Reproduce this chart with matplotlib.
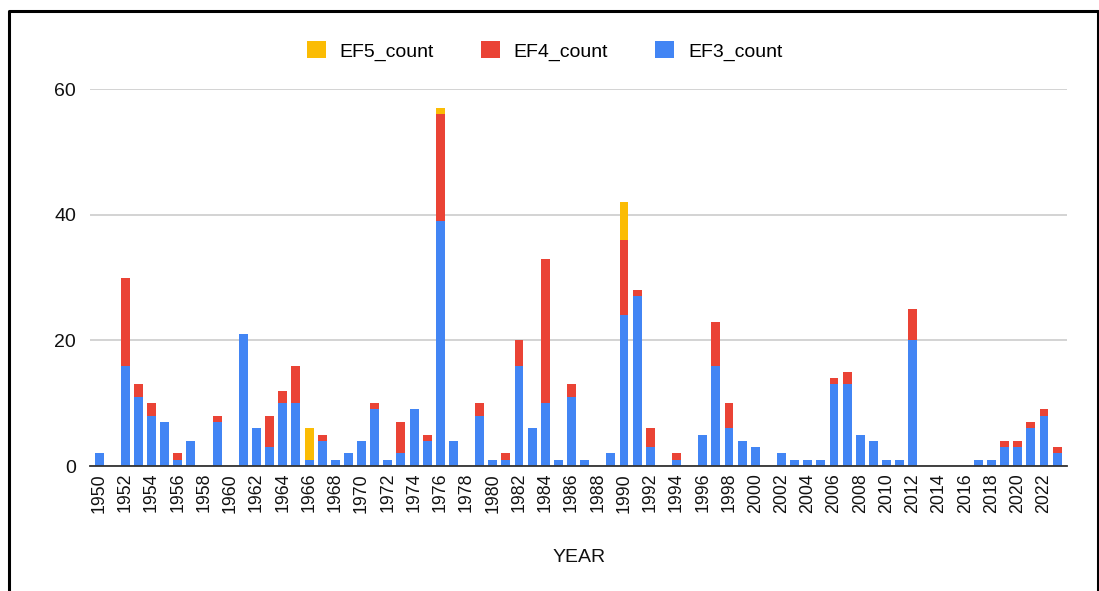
import matplotlib
matplotlib.use("Agg")
import matplotlib.pyplot as plt
from matplotlib.lines import Line2D
from matplotlib.patches import Patch
import numpy as np

plt.rcParams['font.family'] = ['Liberation Sans', 'DejaVu Sans']

years = list(range(1950, 2024))
ef3 = [2, 0, 16, 11, 8, 7, 1, 4, 0, 7,
       0, 21, 6, 3, 10, 10, 1, 4, 1, 2,
       4, 9, 1, 2, 9, 4, 39, 4, 0, 8,
       1, 1, 16, 6, 10, 1, 11, 1, 0, 2,
       24, 27, 3, 0, 1, 0, 5, 16, 6, 4,
       3, 0, 2, 1, 1, 1, 13, 13, 5, 4,
       1, 1, 20, 0, 0, 0, 0, 1, 1, 3,
       3, 6, 8, 2]
ef4 = [0, 0, 14, 2, 2, 0, 1, 0, 0, 1,
       0, 0, 0, 5, 2, 6, 0, 1, 0, 0,
       0, 1, 0, 5, 0, 1, 17, 0, 0, 2,
       0, 1, 4, 0, 23, 0, 2, 0, 0, 0,
       12, 1, 3, 0, 1, 0, 0, 7, 4, 0,
       0, 0, 0, 0, 0, 0, 1, 2, 0, 0,
       0, 0, 5, 0, 0, 0, 0, 0, 0, 1,
       1, 1, 1, 1]
ef5 = [0] * 74
ef5[1966 - 1950] = 5
ef5[1976 - 1950] = 1
ef5[1990 - 1950] = 6

tick_years = list(range(1950, 2024, 2))
yticks = [0, 20, 40, 60]

c3, c4, c5 = '#4285F4', '#EA4335', '#FBBC04'

fig = plt.figure(figsize=(10.99, 5.91), dpi=100)
ax = fig.add_axes([0.082, 0.2115, 0.889, 0.6375])

x = np.arange(len(years))
ef3a = np.array(ef3); ef4a = np.array(ef4); ef5a = np.array(ef5)
w = 0.68
ax.bar(x, ef3a, width=w, color=c3, zorder=3)
ax.bar(x, ef4a, width=w, bottom=ef3a, color=c4, zorder=3)
ax.bar(x, ef5a, width=w, bottom=ef3a + ef4a, color=c5, zorder=3)

ax.set_xlim(-0.68, len(years) - 0.24)
ax.set_ylim(0, 60)
ax.set_yticks(yticks)
ax.set_yticklabels([str(v) for v in yticks], fontsize=14, color='#111111')
ax.yaxis.grid(True, color='#cccccc', linewidth=1.2, zorder=0)
ax.set_xticks([years.index(y) for y in tick_years])
ax.set_xticklabels([str(y) for y in tick_years], rotation=90, fontsize=12.8, color='#111111')
ax.tick_params(axis='both', length=0)
ax.tick_params(axis='x', pad=5)
ax.tick_params(axis='y', pad=10)
for s in ['top', 'right', 'left']:
    ax.spines[s].set_visible(False)
ax.spines['bottom'].set_color('#333333')
ax.spines['bottom'].set_linewidth(1.3)
ax.spines['bottom'].set_zorder(4)
ax.set_xlabel('YEAR', fontsize=14, color='#111111', labelpad=26)

handles = [Patch(facecolor=c5, label='EF5_count'),
           Patch(facecolor=c4, label='EF4_count'),
           Patch(facecolor=c3, label='EF3_count')]
fig.legend(handles=handles, loc='center', bbox_to_anchor=(0.4955, 0.914), ncol=3,
           frameon=False, fontsize=14, handlelength=1.0, handleheight=1.0,
           handletextpad=0.7, columnspacing=2.4)

# outer border
bx0, bx1 = 8.5 / 1099, 1097.5 / 1099
by1 = 1 - 10.5 / 591
fig.add_artist(Line2D([bx0, bx0, bx1, bx1], [0, by1, by1, 0], transform=fig.transFigure,
                      color='black', linewidth=2.2))

fig.savefig('out.png', dpi=100)
